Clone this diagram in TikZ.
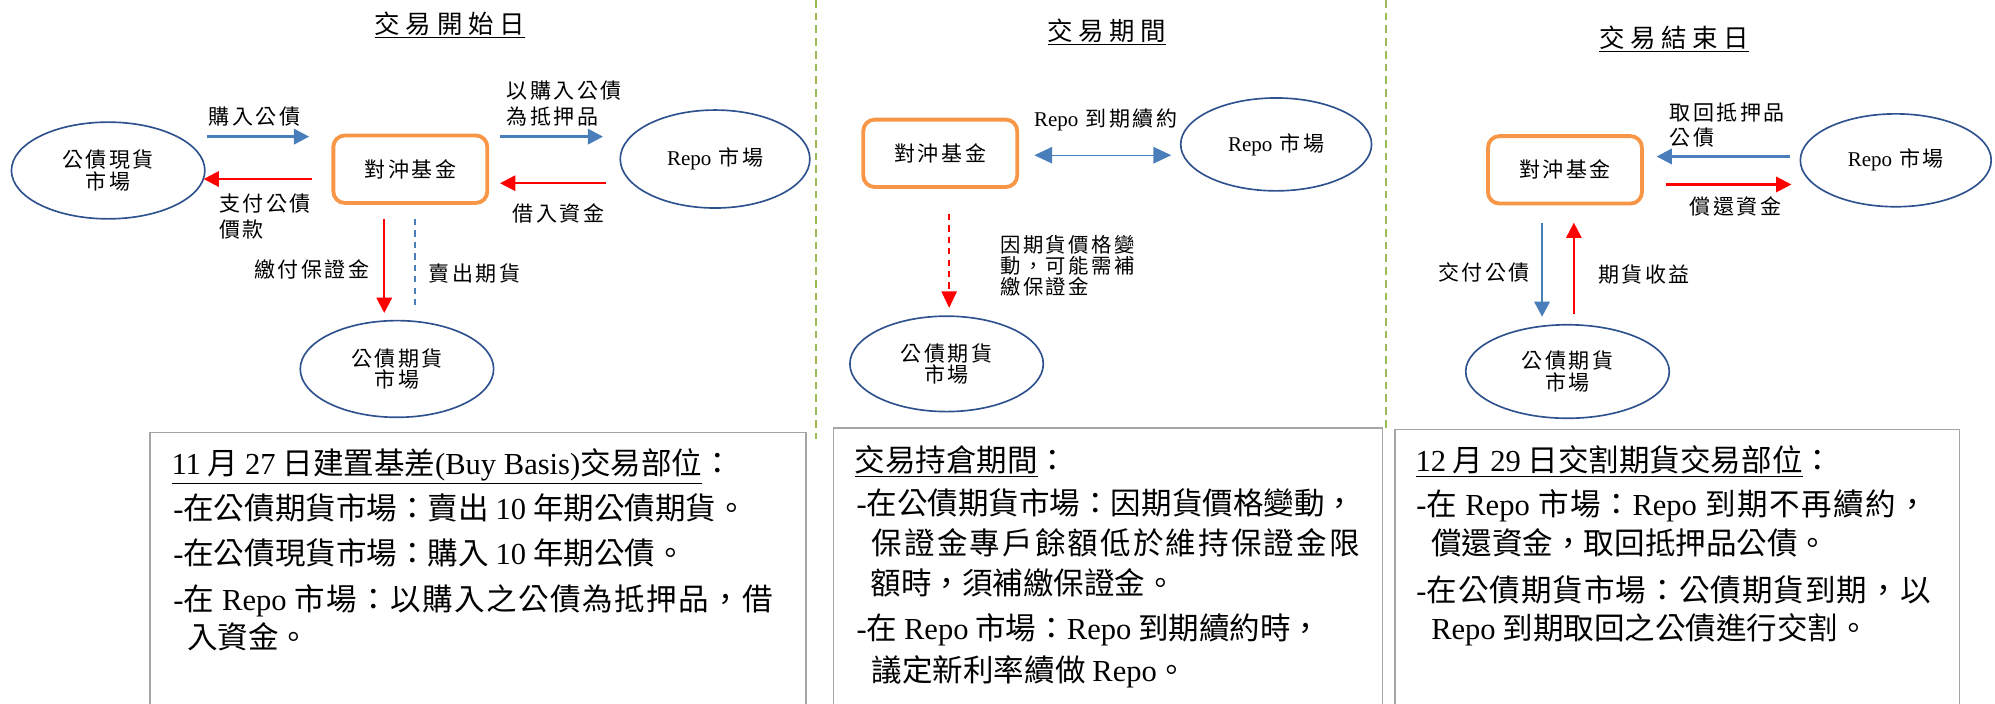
\documentclass[tikz,border=0pt]{standalone}
\usepackage{fontspec}
\setmainfont{Liberation Serif}
\newfontfamily\cjk{Noto Sans CJK TC}
\newfontfamily\cjklab[LetterSpace=12]{Noto Sans CJK TC}
\newfontfamily\cjktit[LetterSpace=22]{Noto Sans CJK TC}
\usetikzlibrary{arrows.meta,shapes.geometric}
\newcommand{\en}[1]{{\rmfamily #1}}
\newcommand{\lsp}[1]{\addfontfeature{LetterSpace=#1}}
\definecolor{ellblue}{HTML}{2F528F}
\definecolor{arrblue}{HTML}{4A7EBB}
\definecolor{fundorange}{HTML}{F79646}
\definecolor{sepgreen}{HTML}{9BBB59}
\definecolor{boxgray}{HTML}{A5A5A5}
\tikzset{
  mkt/.style={ellipse, draw=ellblue, line width=1.3pt, inner sep=0pt, align=center,
    font=\cjklab\fontsize{16.5}{17}\selectfont},
  fund/.style={draw=fundorange, line width=3pt, rounded corners=9pt, inner sep=0pt,
    minimum width=121pt, minimum height=53pt, font=\cjklab\fontsize{16.5}{17}\selectfont},
  lab/.style={inner sep=0pt, font=\cjklab\fontsize{16.5}{21}\selectfont},
  ttl/.style={inner sep=0pt, anchor=base, font=\cjktit\fontsize{20}{24}\selectfont},
  bluearr/.style={draw=arrblue, line width=2.2pt, -{Triangle[length=12pt,width=12pt]}},
  redarr/.style={draw=red, line width=1.8pt, -{Triangle[length=12pt,width=12pt]}},
  sepline/.style={draw=sepgreen, line width=1.6pt, dash pattern=on 6pt off 4pt},
  panel/.style={draw=boxgray, line width=1.3pt},
  btxt/.style={inner sep=0pt, anchor=base west, font=\cjk\fontsize{24}{28}\selectfont},
}
\begin{document}
\begin{tikzpicture}[x=1pt,y=-1pt]
\useasboundingbox (0,0) rectangle (1568,553);

% separators
\coordinate (s1t) at (641,0); \coordinate (s1b) at (641,345);
\coordinate (s2t) at (1089.5,0); \coordinate (s2b) at (1089.5,336);
\draw[sepline] (s1t) -- (s1b);
\draw[sepline] (s2t) -- (s2b);

% ================= Panel 1 =================
\node[ttl] (t1) at (353.5,26) {\underline{交易開始日}};
\node[mkt, minimum width=152pt, minimum height=76pt] (spot1) at (85,134) {公債現貨\\市場};
\node[fund] (fund1) at (322.5,133) {對沖基金};
\node[mkt, minimum width=149pt, minimum height=77pt] (repo1) at (562,125) {\en{Repo} 市場};
\node[mkt, minimum width=152pt, minimum height=76pt] (fut1) at (312,290) {公債期貨\\市場};

\coordinate (a1s) at (163,107.4); \coordinate (a1e) at (243,107.4);
\draw[bluearr] (a1s) -- (a1e);
\coordinate (a2s) at (245,140.7); \coordinate (a2e) at (160,140.7);
\draw[redarr] (a2s) -- (a2e);
\coordinate (a3s) at (393,107.4); \coordinate (a3e) at (474,107.4);
\draw[bluearr] (a3s) -- (a3e);
\coordinate (a4s) at (476,144); \coordinate (a4e) at (393,144);
\draw[redarr] (a4s) -- (a4e);
\coordinate (a5s) at (302,172); \coordinate (a5e) at (302,246);
\draw[redarr] (a5s) -- (a5e);
\coordinate (a6s) at (326,172); \coordinate (a6e) at (326,244);
\draw[draw=arrblue, line width=1.3pt, dash pattern=on 5pt off 4pt] (a6s) -- (a6e);

\node[lab] (l11) at (200,92) {購入公債};
\node[lab, anchor=north west, align=left] (l12) at (172,152) {支付公債\\價款};
\node[lab, anchor=north west, align=left] (l13) at (398,63) {以購入公債\\為抵押品};
\node[lab] (l14) at (439,168) {借入資金};
\node[lab] (l15) at (245,212) {繳付保證金};
\node[lab] (l16) at (373,215) {賣出期貨};

% ================= Panel 2 =================
\node[ttl] (t2) at (870,31.5) {\underline{交易期間}};
\node[fund] (fund2) at (739,120.5) {對沖基金};
\node[mkt, minimum width=150pt, minimum height=73pt] (repo2) at (1003,113.5) {\en{Repo} 市場};
\node[mkt, minimum width=152pt, minimum height=75pt] (fut2) at (744,286) {公債期貨\\市場};

\coordinate (b1s) at (813,122); \coordinate (b1e) at (920.5,122);
\draw[draw=arrblue, line width=1pt, {Triangle[length=14pt,width=13pt]}-{Triangle[length=14pt,width=13pt]}] (b1s) -- (b1e);
\coordinate (b2s) at (746,168); \coordinate (b2e) at (746,242);
\draw[draw=red, line width=1.2pt, dash pattern=on 5pt off 4pt, -{Triangle[length=13pt,width=12pt]}] (b2s) -- (b2e);

\node[lab] (l21) at (869,94) {\en{Repo} 到期續約};
\node[lab, anchor=north west, align=left, font=\cjklab\fontsize{16}{16.5}\selectfont] (l22) at (786,185) {因期貨價格變\\動，可能需補\\繳保證金};

% ================= Panel 3 =================
\node[ttl] (t3) at (1315.75,37.5) {\underline{交易結束日}};
\node[fund] (fund3) at (1230,133.5) {對沖基金};
\node[mkt, minimum width=150pt, minimum height=73pt] (repo3) at (1490,126) {\en{Repo} 市場};
\node[mkt, minimum width=160pt, minimum height=73.5pt] (fut3) at (1232,292) {公債期貨\\市場};

\coordinate (c1s) at (1407,123); \coordinate (c1e) at (1302,123);
\draw[bluearr] (c1s) -- (c1e);
\coordinate (c2s) at (1309.5,145); \coordinate (c2e) at (1408,145);
\draw[redarr] (c2s) -- (c2e);
\coordinate (c3s) at (1212,175.6); \coordinate (c3e) at (1212,249);
\draw[bluearr] (c3s) -- (c3e);
\coordinate (c4s) at (1237,246.5); \coordinate (c4e) at (1237,175);
\draw[redarr] (c4s) -- (c4e);

\node[lab, anchor=north west, align=left, font=\cjklab\fontsize{16.5}{19.5}\selectfont] (l31) at (1312,81) {取回抵押品\\公債};
\node[lab] (l32) at (1364,162) {償還資金};
\node[lab] (l33) at (1166.5,214) {交付公債};
\node[lab] (l34) at (1292,215.5) {期貨收益};

% ================= Bottom boxes =================
\draw[panel] (117.7,556) -- (117.7,340) -- (633.5,340) -- (633.5,556);
\draw[panel] (655,556) -- (655,336.6) -- (1086.7,336.6) -- (1086.7,556);
\draw[panel] (1096.4,556) -- (1096.4,337.5) -- (1540,337.5) -- (1540,556);

\node[btxt] (x11) at (134.6,373) {\underline{\en{11} 月 \en{27} 日建置基差\en{(Buy Basis)}交易部位}：};
\node[btxt] (x12) at (136,408.5) {\en{-}在公債期貨市場：賣出 \en{10} 年期公債期貨。};
\node[btxt] (x13) at (136,444) {\en{-}在公債現貨市場：購入 \en{10} 年期公債。};
\node[btxt] (x14) at (136,480) {\lsp{4.6}\en{-}在 \en{Repo} 市場：以購入之公債為抵押品，借};
\node[btxt] (x15) at (147,509.5) {入資金。};

\node[btxt] (x21) at (671.6,370.5) {\underline{交易持倉期間}：};
\node[btxt] (x22) at (673,404.5) {\en{-}在公債期貨市場：因期貨價格變動，};
\node[btxt] (x23) at (685,436) {\lsp{7}保證金專戶餘額低於維持保證金限};
\node[btxt] (x24) at (684,467.5) {額時，須補繳保證金。};
\node[btxt] (x25) at (673,502.5) {\en{-}在 \en{Repo} 市場：\en{Repo} 到期續約時，};
\node[btxt] (x26) at (685,535.5) {議定新利率續做 \en{Repo}。};

\node[btxt] (x31) at (1112.4,370.5) {\underline{\en{12} 月 \en{29} 日交割期貨交易部位}：};
\node[btxt] (x32) at (1113,405.5) {\lsp{4.7}\en{-}在 \en{Repo} 市場：\en{Repo} 到期不再續約，};
\node[btxt] (x33) at (1124.7,436) {償還資金，取回抵押品公債。};
\node[btxt] (x34) at (1113,472.5) {\lsp{3.4}\en{-}在公債期貨市場：公債期貨到期，以};
\node[btxt] (x35) at (1124.7,502.5) {\en{Repo} 到期取回之公債進行交割。};
\end{tikzpicture}
\end{document}
